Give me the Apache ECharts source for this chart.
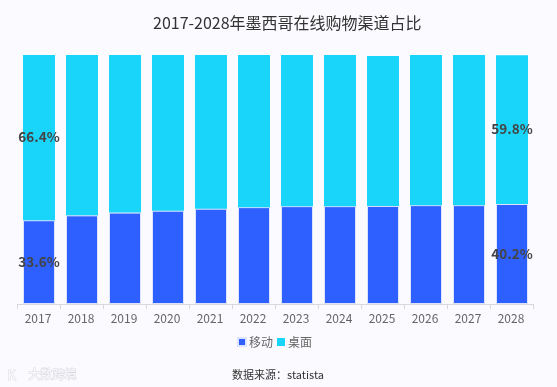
<!DOCTYPE html>
<html><head><meta charset="utf-8">
<style>html,body{margin:0;padding:0;background:#FAFAFF}#c{width:557px;height:387px}</style>
<script src="https://cdn.jsdelivr.net/npm/echarts@6/dist/echarts.min.js"></script>
</head><body><div id="c"></div>
<script>
const categories = ['2017','2018','2019','2020','2021','2022','2023','2024','2025','2026','2027','2028'];
const mobile  = [33.64,35.6,36.7,37.5,38.3,38.9,39.3,39.3,39.4,39.7,39.7,40.16];
const desktop = [66.44,64.5,63.4,62.6,61.8,61.2,60.8,60.8,60.2,60.4,60.4,59.76];
const labelled = ['2017','2028'];
const FONT = '"Noto Sans CJK SC","Noto Sans",sans-serif';
const chart = echarts.init(document.getElementById('c'), null, {renderer:'canvas'});
function seriesLabel(dy){
  return {show:true, position:'inside', offset:[0,dy], fontFamily:FONT, fontSize:13.5, fontWeight:'bold', color:'#444',
    formatter:p => labelled.includes(p.name) ? p.value.toFixed(1)+'%' : ''};
}
chart.setOption({
  animation:false,
  backgroundColor:'#FAFAFF',
  title:{text:'2017-2028年墨西哥在线购物渠道占比', left:148, top:10,
    textStyle:{fontFamily:FONT, fontSize:16, fontWeight:'normal', color:'#333'}},
  legend:{data:['移动','桌面'], left:232, top:331, itemWidth:8, itemHeight:8, itemGap:4, icon:'rect',
    textStyle:{fontFamily:FONT, fontSize:12, color:'#666', padding:[0,0,0,-2]}},
  grid:{left:17.5, right:23.5, top:55, bottom:83},
  xAxis:{type:'category', data:categories,
    axisLine:{lineStyle:{color:'#D9D9D9'}}, axisTick:{show:true, length:5, lineStyle:{color:'#D9D9D9'}},
    axisLabel:{fontFamily:FONT, fontSize:12, color:'#666', margin:8, padding:[0,2,0,0]}},
  yAxis:{type:'value', min:0, max:100, show:false},
  series:[
    {name:'移动', type:'bar', stack:'a', barWidth:32, data:mobile, label:seriesLabel(0),
     itemStyle:{color:'#2E5FFF', borderColor:'#DDE2FF', borderWidth:1}},
    {name:'桌面', type:'bar', stack:'a', barWidth:32, data:desktop, label:seriesLabel(-1),
     itemStyle:{color:'#1AD5FA'}}
  ],
  graphic:[
    {type:'text', left:232, top:369.5, style:{text:'数据来源：statista', fontFamily:FONT, fontSize:11, fill:'#333'}},
    {type:'text', left:7, top:368, style:{text:'K', fontFamily:FONT, fontSize:13, fill:'#FBFBFF', stroke:'#D8D8DE', lineWidth:1}},
    {type:'text', left:28, top:368, style:{text:'大数跨境', fontFamily:FONT, fontSize:12, fill:'#FBFBFF', stroke:'#D8D8DE', lineWidth:1}}
  ]
});
</script></body></html>
